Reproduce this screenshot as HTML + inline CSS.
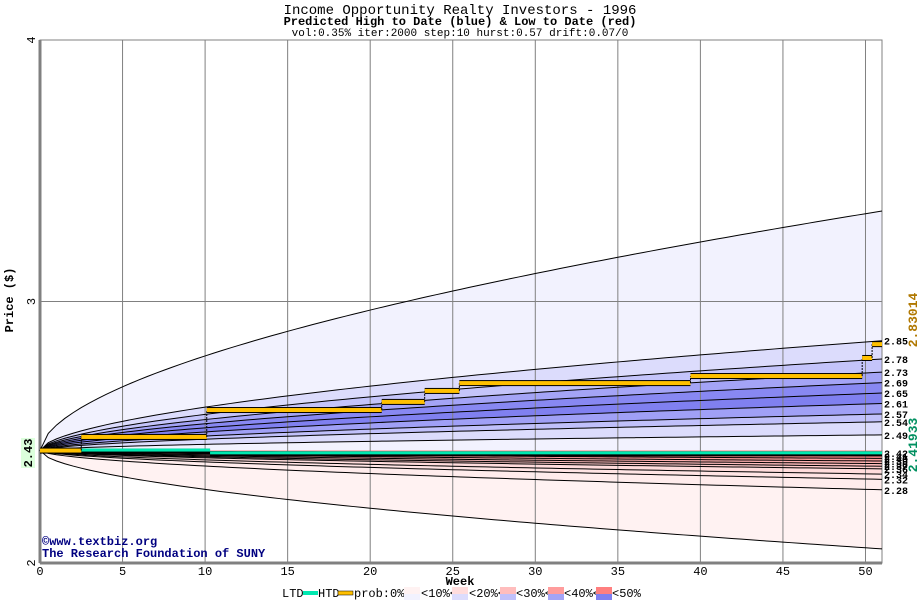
<!DOCTYPE html>
<html><head><meta charset="utf-8"><style>
body{margin:0;background:#fff}
svg text{font-family:"Liberation Mono",monospace}
</style></head><body>
<svg id="c" width="920" height="600" xmlns="http://www.w3.org/2000/svg">
<text x="460" y="14" text-anchor="middle" font-size="14">Income Opportunity Realty Investors - 1996</text>
<text x="460" y="25" text-anchor="middle" font-size="12" font-weight="bold">Predicted High to Date (blue) &amp;  Low to Date (red)</text>
<text x="460" y="36" text-anchor="middle" font-size="11">vol:0.35% iter:2000 step:10 hurst:0.57 drift:0.07/0</text>
<g id="bands"></g><g id="grid"></g><g id="lines"></g>
</svg>
<script>
const upperEnds=[3.346,2.85,2.78,2.73,2.69,2.65,2.61,2.57,2.54,2.49];
const upperColors=['#f2f2fe','#dcdcfc','#c4c4fa','#a4a4f6','#8888f2','#8080f0','#a0a0f6','#c0c0fa','#dcdcfc','#f2f2fe'];
const lowerEnds=[2.42,2.41,2.40,2.39,2.38,2.37,2.36,2.34,2.32,2.28,2.054];
const lowerColors=['#ff7f7f','#ff8c8c','#ff9c9c','#ffb0b0','#ffbdbd','#ffcccc','#ffdcdc','#ffe4e4','#ffecec','#fff2f2'];
const startPrice=2.43;
const htdWeeks=[0,2.5,10.1,20.7,23.3,25.4,39.4,49.8,50.4,51];
const htdValues=[2.43,2.482,2.585,2.616,2.658,2.688,2.715,2.784,2.837];
const ltdWeeks=[0,10.3,51];
const ltdValues=[2.43,2.4193];
const xTicks=[0,5,10,15,20,25,30,35,40,45,50];
const yTicks=[2,3,4];
const X=w=>40+w*(842/51), Y=p=>563-(p-2)*261.5;
const NS='http://www.w3.org/2000/svg';
const svg=document.getElementById('c');
function mk(t,a,p){const e=document.createElementNS(NS,t);for(const k in a)e.setAttribute(k,a[k]);(p||svg).appendChild(e);return e;}
const shape=w=>Math.pow(w/51,0.57);
function curve(end){const pts=[];for(let w=0;w<=51;w+=0.5)pts.push([X(w),Y(startPrice+(end-startPrice)*shape(w))]);return pts;}
const B=document.getElementById('bands'),G=document.getElementById('grid'),L=document.getElementById('lines');
mk('rect',{x:40,y:40,width:842,height:523,fill:'#fff'},B);
function band(a,b,col,name){const p1=curve(a),p2=curve(b).reverse();
 const e=mk('polygon',{points:p1.concat(p2).map(p=>p.join(',')).join(' '),fill:col},B);
 }
for(let i=0;i<upperEnds.length;i++){band(upperEnds[i],i+1<upperEnds.length?upperEnds[i+1]:startPrice,upperColors[i],'upper-band-'+i);}
for(let i=0;i<lowerEnds.length-1;i++){band(lowerEnds[i],lowerEnds[i+1],lowerColors[i],'lower-band-'+i);}
band(startPrice,lowerEnds[0],'#ff7f7f','lower-band-core');
xTicks.forEach(w=>{const l=mk('line',{x1:X(w),y1:40,x2:X(w),y2:563,stroke:'#808080','stroke-width':1},G);
 
 const t=mk('text',{x:X(w),y:575,'text-anchor':'middle','font-size':12});t.textContent=w;
 });
yTicks.forEach(p=>{const l=mk('line',{x1:40,y1:Y(p),x2:882,y2:Y(p),stroke:'#808080'},G);
 
 const t=mk('text',{x:0,y:0,'text-anchor':'middle','font-size':12,transform:`translate(35,${Y(p)}) rotate(-90)`});t.textContent=p;
 });
mk('rect',{x:40,y:40,width:842,height:523,fill:'none',stroke:'#808080'},G);
mk('line',{x1:40,y1:40,x2:40,y2:563,stroke:'#808080','stroke-width':3},G);
mk('line',{x1:40,y1:563,x2:882,y2:563,stroke:'#808080','stroke-width':3},G);
upperEnds.concat(lowerEnds).forEach(e=>{const l=mk('polyline',{points:curve(e).map(p=>p.join(',')).join(' '),fill:'none',stroke:'#000','stroke-width':1},L);
 });
upperEnds.slice(1).concat(lowerEnds.slice(0,-1)).forEach(e=>{const t=mk('text',{x:884,y:Y(e)+4,'font-size':10,'font-weight':'bold'},L);t.textContent=e.toFixed(2);
 });
// LTD
for(let i=0;i<ltdValues.length;i++){
 const x1=X(ltdWeeks[i]),x2=X(ltdWeeks[i+1]),y=Y(ltdValues[i]);
 mk('rect',{x:x1,y:y-2,width:x2-x1,height:5,fill:'#000'},L);
 const r=mk('rect',{x:x1,y:y-2,width:x2-x1,height:3,fill:'#00e8b0'},L);
 
}
// HTD
for(let i=0;i<htdValues.length;i++){
 const x1=X(htdWeeks[i]),x2=X(htdWeeks[i+1]),y=Y(htdValues[i]);
 if(i>0){mk('line',{x1:x1,y1:Y(htdValues[i-1]),x2:x1,y2:y,stroke:'#000','stroke-width':1,'stroke-dasharray':'2,1'},L);}
 mk('rect',{x:x1,y:y-3,width:x2-x1,height:6,fill:'#000'},L);
 const r=mk('rect',{x:x1,y:y-2,width:x2-x1,height:4,fill:'#ffc000'},L);
 
}
</script>
<svg width="920" height="600" style="position:absolute;left:0;top:0" xmlns="http://www.w3.org/2000/svg">
<rect x="21" y="438" width="14" height="30" fill="#dcffdc"/>
<text transform="translate(32,453) rotate(-90)" text-anchor="middle" font-size="12" font-weight="bold" font-family="Liberation Mono,monospace">2.43</text>
<text transform="translate(13,300) rotate(-90)" text-anchor="middle" font-size="12" font-weight="bold" font-family="Liberation Mono,monospace">Price ($)</text>
<text x="460" y="585" text-anchor="middle" font-size="12" font-weight="bold" font-family="Liberation Mono,monospace">Week</text>
<text transform="translate(917,320) rotate(-90)" text-anchor="middle" font-size="13" font-weight="bold" fill="#b07800" font-family="Liberation Mono,monospace">2.83014</text>
<text transform="translate(917,445) rotate(-90)" text-anchor="middle" font-size="13" font-weight="bold" fill="#009060" font-family="Liberation Mono,monospace">2.41933</text>
<text x="42" y="545" font-size="12" font-weight="bold" fill="#000080" font-family="Liberation Mono,monospace">©www.textbiz.org</text>
<text x="42" y="557" font-size="12" font-weight="bold" fill="#000080" font-family="Liberation Mono,monospace">The Research Foundation of SUNY</text>
<g font-size="12" font-family="Liberation Mono,monospace">
<text x="282" y="597">LTD</text><rect x="303" y="591" width="15" height="4" fill="#00e8b0"/>
<text x="318" y="597">HTD</text><rect x="338" y="591" width="15" height="4" fill="#ffc000" stroke="#000" stroke-width="0.5"/>
<text x="354" y="597">prob:0%&lt;</text>
<rect x="404" y="587" width="16" height="7" fill="#fff2f2"/><rect x="404" y="594" width="16" height="6" fill="#f2f2fe"/><text x="421" y="597">&lt;10%&lt;</text>
<rect x="452" y="587" width="16" height="7" fill="#ffdcdc"/><rect x="452" y="594" width="16" height="6" fill="#dcdcfc"/><text x="469" y="597">&lt;20%&lt;</text>
<rect x="500" y="587" width="16" height="7" fill="#ffbdbd"/><rect x="500" y="594" width="16" height="6" fill="#c0c0fa"/><text x="516" y="597">&lt;30%&lt;</text>
<rect x="548" y="587" width="16" height="7" fill="#ff9c9c"/><rect x="548" y="594" width="16" height="6" fill="#a4a4f6"/><text x="564" y="597">&lt;40%&lt;</text>
<rect x="596" y="587" width="16" height="7" fill="#ff7f7f"/><rect x="596" y="594" width="16" height="6" fill="#8080f0"/><text x="612" y="597">&lt;50%</text>
</g>
</svg>
</body></html>
